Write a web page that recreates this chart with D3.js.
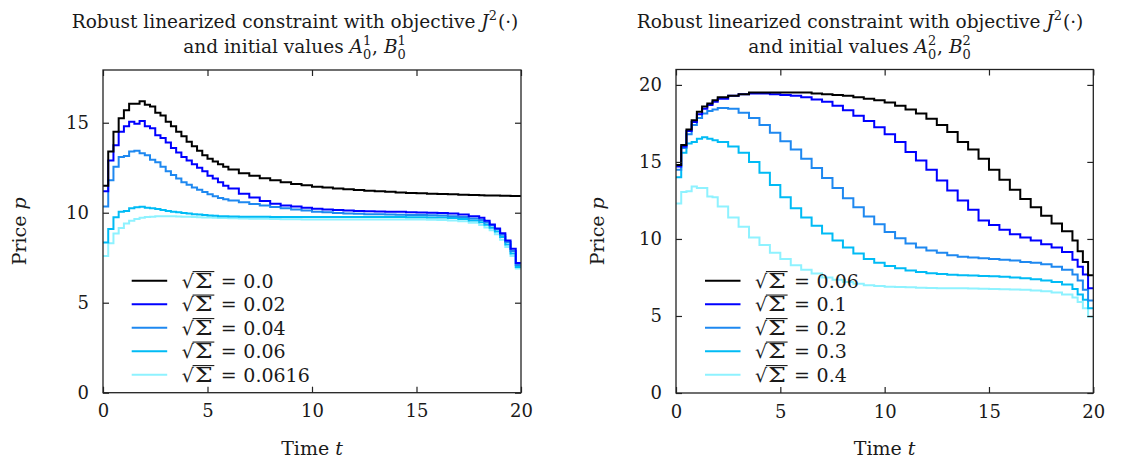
<!DOCTYPE html>
<html>
<head>
<meta charset="utf-8">
<script src="https://cdn.jsdelivr.net/npm/d3@7"></script>
<style>
  html, body { margin: 0; padding: 0; background: #fff; }
  svg { display: block; }
  text { font-family: "DejaVu Serif", serif; fill: #1a1a1a; white-space: pre; }
</style>
</head>
<body>
<svg id="chart" width="1126" height="464"></svg>
<script>
// Piecewise-constant price paths: each value holds from its start time to the next one (last one to t = 20).
const leftTimes = [0,0.25,0.5,0.75,1,1.25,1.5,1.75,2,2.25,2.5,2.75,3,3.25,3.5,3.75,4,4.25,4.5,4.75,5,5.25,5.5,5.75,
  6,6.5,7,7.5,8,8.5,9,9.5,10,10.5,11,11.5,12,12.5,13,13.5,14,14.5,15,15.5,16,16.5,17,17.5,
  18,18.25,18.5,18.75,19,19.25,19.5,19.75];

const leftSigma = ["0.0", "0.02", "0.04", "0.06", "0.0616"];

const leftS0 = [11.5,13.4,14.5,15.25,15.7,16.05,16.05,16.2,16.0,15.9,15.55,15.4,15.05,14.8,14.5,14.25,13.95,13.7,13.45,13.2,13.0,12.85,12.7,12.55,
  12.4,12.2,12.05,11.92,11.8,11.7,11.6,11.52,11.45,11.4,11.35,11.3,11.26,11.22,11.19,11.16,11.13,11.1,11.08,11.06,11.04,11.02,11.0,10.98,
  10.97,10.96,10.95,10.95,10.94,10.94,10.93,10.93];
const leftS1 = [11.2,12.9,13.75,14.5,14.8,15.05,14.95,15.1,14.8,14.7,14.3,14.15,13.9,13.6,13.35,13.1,12.9,12.7,12.5,12.3,12.05,11.9,11.7,11.5,
  11.35,11.05,10.85,10.65,10.5,10.4,10.34,10.28,10.22,10.18,10.15,10.12,10.1,10.08,10.07,10.06,10.05,10.03,10.01,10.0,9.98,9.95,9.9,9.8,
  9.72,9.55,9.35,9.12,8.86,8.45,8.0,7.2];
const leftS2 = [10.35,11.8,12.55,13.1,13.15,13.4,13.45,13.3,13.2,12.95,12.8,12.55,12.3,12.1,11.9,11.7,11.55,11.4,11.27,11.15,11.02,10.92,10.82,10.75,
  10.68,10.58,10.48,10.4,10.32,10.25,10.18,10.12,10.06,10.02,9.99,9.96,9.94,9.92,9.91,9.9,9.89,9.88,9.87,9.86,9.84,9.81,9.76,9.68,
  9.6,9.46,9.3,9.08,8.78,8.38,7.88,7.1];
const leftS3 = [8.35,9.1,9.75,10.05,10.1,10.25,10.3,10.33,10.28,10.25,10.2,10.15,10.1,10.05,10.02,9.98,9.95,9.92,9.9,9.87,9.85,9.83,9.81,9.8,
  9.79,9.78,9.77,9.77,9.76,9.76,9.76,9.76,9.76,9.76,9.76,9.76,9.76,9.76,9.76,9.76,9.76,9.75,9.75,9.74,9.73,9.7,9.65,9.57,
  9.47,9.33,9.17,8.95,8.65,8.24,7.74,6.98];
const leftS4 = [7.6,8.3,8.85,9.15,9.4,9.55,9.65,9.72,9.76,9.78,9.8,9.8,9.8,9.8,9.79,9.78,9.77,9.76,9.75,9.74,9.73,9.72,9.71,9.7,
  9.69,9.68,9.67,9.66,9.65,9.64,9.64,9.63,9.63,9.63,9.63,9.63,9.63,9.63,9.63,9.63,9.63,9.62,9.62,9.61,9.6,9.57,9.52,9.44,
  9.32,9.18,9.02,8.8,8.5,8.1,7.6,6.9];

const rightTimes = [0,0.25,0.5,0.75,1,1.25,1.5,1.75,
  2,2.5,3,3.5,4,4.5,5,5.5,6,6.5,7,7.5,8,8.5,9,9.5,10,10.5,11,11.5,12,12.5,13,13.5,14,14.5,15,15.5,16,16.5,17,17.5,18,18.5,
  19,19.25,19.5,19.75];

const rightSigma = ["0.06", "0.1", "0.2", "0.3", "0.4"];

const rightS0 = [14.8,16.1,17.1,17.7,18.25,18.6,18.8,19.0,
  19.2,19.3,19.4,19.5,19.5,19.5,19.5,19.5,19.5,19.45,19.4,19.35,19.3,19.2,19.1,19.0,18.85,18.65,18.4,18.15,17.8,17.4,16.95,16.3,15.8,15.2,14.5,13.85,13.2,12.6,12.05,11.5,11.0,10.5,
  9.9,9.2,8.5,7.65];
const rightS1 = [14.7,16.0,17.0,17.6,18.1,18.45,18.7,18.9,
  19.1,19.3,19.4,19.45,19.45,19.4,19.35,19.3,19.2,19.05,18.9,18.65,18.35,18.0,17.65,17.25,16.8,16.3,15.65,15.1,14.5,13.8,13.15,12.5,11.9,11.2,10.9,10.6,10.3,10.1,9.9,9.65,9.45,9.15,
  8.65,8.2,7.7,6.8];
const rightS2 = [14.5,15.9,16.8,17.4,17.85,18.15,18.3,18.4,
  18.5,18.45,18.2,17.85,17.4,16.9,16.35,15.8,15.2,14.6,13.95,13.3,12.65,12.05,11.45,10.95,10.45,10.05,9.7,9.45,9.25,9.1,8.95,8.85,8.8,8.75,8.7,8.65,8.6,8.5,8.45,8.35,8.2,8.0,
  7.7,7.3,6.7,6.0];
const rightS3 = [14.0,15.6,16.2,16.3,16.5,16.6,16.5,16.4,
  16.3,16.0,15.6,15.0,14.3,13.5,12.7,12.0,11.4,10.85,10.35,9.9,9.45,9.05,8.7,8.45,8.25,8.1,7.95,7.85,7.78,7.72,7.68,7.65,7.62,7.6,7.58,7.55,7.5,7.45,7.38,7.3,7.2,7.05,
  6.75,6.4,6.05,5.5];
const rightS4 = [12.3,13.05,13.1,13.4,13.3,13.3,12.75,12.7,
  12.1,11.4,10.8,10.1,9.6,9.1,8.7,8.3,8.0,7.75,7.5,7.35,7.2,7.1,7.0,6.95,6.9,6.88,6.86,6.84,6.82,6.8,6.8,6.8,6.78,6.76,6.75,6.74,6.72,6.7,6.66,6.6,6.52,6.4,
  6.2,5.9,5.5,4.95];

const xTickValues = [0, 5, 10, 15, 20];
const leftYTicks = [0, 5, 10, 15];
const rightYTicks = [0, 5, 10, 15, 20];

const seriesColors = ["#000000", "#0000ff", "#1e88f0", "#00bbf5", "#8ef2ff"];

const panels = [
  { left: 103, right: 521, bottom: 392.7, top: 70, yMax: 17.93, yTicks: leftYTicks,
    times: leftTimes, series: [leftS0, leftS1, leftS2, leftS3, leftS4], sigma: leftSigma,
    titleX: 295, initIndex: "1", yLabelX: 26, legendX: 131.7 },
  { left: 676, right: 1093.3, bottom: 393, top: 69.5, yMax: 21, yTicks: rightYTicks,
    times: rightTimes, series: [rightS0, rightS1, rightS2, rightS3, rightS4], sigma: rightSigma,
    titleX: 860, initIndex: "2", yLabelX: 604, legendX: 705 }
];

const svg = d3.select("#chart");
svg.append("rect").attr("width", 1126).attr("height", 464).attr("fill", "#fff");

const TICK_FS = 18, LEGEND_FS = 19, TITLE_FS = 18.5, LABEL_FS = 19;

// Lay out a run of text pieces (plain, italic, super/subscript stacks) and centre it on cx.
function richText(parent, cx, baseline, pieces, fs) {
  const g = parent.append("g");
  let x = 0;
  pieces.forEach(p => {
    if (p.sup !== undefined || p.sub !== undefined) {
      let w = 0;
      if (p.sup !== undefined) {
        const t = g.append("text").attr("x", x).attr("y", baseline - fs * 0.42)
          .style("font-size", (fs * 0.7) + "px").text(p.sup);
        w = Math.max(w, t.node().getComputedTextLength());
      }
      if (p.sub !== undefined) {
        const t = g.append("text").attr("x", x).attr("y", baseline + fs * 0.3)
          .style("font-size", (fs * 0.7) + "px").text(p.sub);
        w = Math.max(w, t.node().getComputedTextLength());
      }
      x += w + 1;
    } else {
      const t = g.append("text").attr("x", x).attr("y", baseline)
        .style("font-size", fs + "px")
        .style("font-style", p.it ? "italic" : "normal").text(p.t);
      x += t.node().getComputedTextLength() + (p.gap || 0);
    }
  });
  g.attr("transform", `translate(${cx - x / 2},0)`);
  return g;
}

panels.forEach(P => {
  const x = d3.scaleLinear().domain([0, 20]).range([P.left, P.right]);
  const y = d3.scaleLinear().domain([0, P.yMax]).range([P.bottom, P.top]);
  const g = svg.append("g");

  // step curves, lightest first so the darker ones sit on top
  const line = d3.line().x(d => x(d[0])).y(d => y(d[1])).curve(d3.curveStepAfter);
  const plot = g.append("g");
  for (let k = P.series.length - 1; k >= 0; k--) {
    const vals = P.series[k];
    const pts = P.times.map((t, i) => [t, vals[i]]);
    pts.push([20, vals[vals.length - 1]]);
    plot.append("path").attr("d", line(pts)).attr("fill", "none")
      .attr("stroke", seriesColors[k]).attr("stroke-width", 2)
      .attr("stroke-linejoin", "miter");
  }

  // axes with inward ticks on all four sides
  const axB = g.append("g").attr("transform", `translate(0,${P.bottom})`)
    .call(d3.axisBottom(x).tickValues(xTickValues).tickSizeInner(-6).tickSizeOuter(0).tickPadding(12).tickFormat(d3.format("d")));
  const axT = g.append("g").attr("transform", `translate(0,${P.top})`)
    .call(d3.axisTop(x).tickValues(xTickValues).tickSizeInner(-6).tickSizeOuter(0).tickFormat(""));
  const axL = g.append("g").attr("transform", `translate(${P.left},0)`)
    .call(d3.axisLeft(y).tickValues(P.yTicks).tickSizeInner(-6).tickSizeOuter(0).tickPadding(14).tickFormat(d3.format("d")));
  const axR = g.append("g").attr("transform", `translate(${P.right},0)`)
    .call(d3.axisRight(y).tickValues(P.yTicks).tickSizeInner(-6).tickSizeOuter(0).tickFormat(""));
  [axB, axT, axL, axR].forEach(a => {
    a.select(".domain").remove();
    a.selectAll(".tick line").attr("stroke", "#222").attr("stroke-width", 1.2);
    a.selectAll("text").style("font-size", TICK_FS + "px").attr("fill", "#1a1a1a")
      .style("font-family", '"DejaVu Serif", serif');
  });
  g.append("rect").attr("x", P.left).attr("y", P.top)
    .attr("width", P.right - P.left).attr("height", P.bottom - P.top)
    .attr("fill", "none").attr("stroke", "#222").attr("stroke-width", 1.3);

  // axis titles
  const cxPlot = (P.left + P.right) / 2;
  richText(g, cxPlot, 455, [{ t: "Time " }, { t: "t", it: true }], LABEL_FS);
  const yl = g.append("g").attr("transform", `translate(${P.yLabelX},${(P.top + P.bottom) / 2}) rotate(-90)`);
  richText(yl, 0, 0, [{ t: "Price " }, { t: "p", it: true }], LABEL_FS);

  // two-line title
  richText(g, P.titleX, 28, [
    { t: "Robust linearized constraint with objective " }, { t: "J", it: true },
    { sup: "2" }, { t: "(·)" }], TITLE_FS);
  richText(g, P.titleX, 53, [
    { t: "and initial values " }, { t: "A", it: true }, { sup: P.initIndex, sub: "0" },
    { t: ", " }, { t: "B", it: true }, { sup: P.initIndex, sub: "0" }], TITLE_FS);

  // legend: sample line, then √Σ = value
  const lg = g.append("g");
  P.sigma.forEach((s, i) => {
    const cy = 280.7 + i * 23.5;
    lg.append("line").attr("x1", P.legendX).attr("x2", P.legendX + 35.5)
      .attr("y1", cy).attr("y2", cy).attr("stroke", seriesColors[i]).attr("stroke-width", 2);
    const base = cy + LEGEND_FS * 0.36;
    const tx = P.legendX + 50;
    const rad = lg.append("text").attr("x", tx).attr("y", base).style("font-size", LEGEND_FS + "px").text("√");
    const rw = rad.node().getComputedTextLength();
    // wide sigma under the radical bar
    lg.append("text").attr("x", tx + rw + 1).attr("y", base)
      .attr("textLength", 18).attr("lengthAdjust", "spacingAndGlyphs")
      .style("font-size", (LEGEND_FS * 1.1) + "px").text("Σ");
    lg.append("line").attr("x1", tx + rw - 1.2).attr("x2", tx + rw + 20.5)
      .attr("y1", base - LEGEND_FS * 0.84).attr("y2", base - LEGEND_FS * 0.84)
      .attr("stroke", "#1a1a1a").attr("stroke-width", 1.1);
    lg.append("text").attr("x", tx + 39).attr("y", base).style("font-size", LEGEND_FS + "px").text("=");
    lg.append("text").attr("x", tx + 61.6).attr("y", base).style("font-size", LEGEND_FS + "px").text(s);
  });
});
</script>
</body>
</html>
